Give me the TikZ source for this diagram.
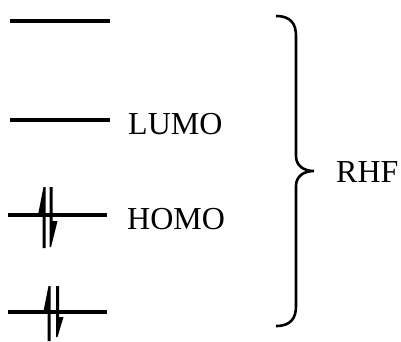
\documentclass[tikz,border=0pt]{standalone}
\usepackage{fontspec}
\setmainfont{Liberation Serif}
\begin{document}
\begin{tikzpicture}[x=1pt,y=-1pt,
  level/.style={line width=3.2pt},
  spin/.style={fill=black},
  brace/.style={line width=2.6pt},
  lbl/.style={inner sep=0pt,anchor=base west,font=\fontsize{32}{36}\selectfont}]
\useasboundingbox (0,0) rectangle (401,341);
% levels
\draw[level] (10,21) -- (110,21);
\draw[level] (10,120) -- (110,120);
\draw[level] (8,215) -- (107,215);
\draw[level] (8,312) -- (107,312);
% electrons, HOMO
\fill[spin] (42.5,248) -- (42.5,215) -- (38,215) -- (43.5,187) -- (45.5,187) -- (45.5,248) -- cycle;
\fill[spin] (49.5,187) -- (52.5,187) -- (52.5,221) -- (57.5,221) -- (51,247) -- (49.5,247) -- cycle;
% electrons, lower level
\fill[spin] (47.5,341) -- (47.5,311) -- (43.5,311) -- (48.5,286) -- (50.5,286) -- (50.5,341) -- cycle;
\fill[spin] (56,286) -- (59,286) -- (59,317) -- (63.5,317) -- (57.5,337) -- (56,337) -- cycle;
% labels
\node[lbl] (lumo) at (128,134) {LUMO};
\node[lbl] (homo) at (127,229) {HOMO};
\node[lbl] (rhf) at (336,182) {RHF};
% brace
\draw[brace] (276,16) .. controls (291,16) and (296,24) .. (296,36) -- (296,156)
  .. controls (296,166) and (304,171) .. (314,171)
  .. controls (304,171) and (296,176) .. (296,186) -- (296,306)
  .. controls (296,318) and (291,326) .. (276,326);
\end{tikzpicture}
\end{document}
